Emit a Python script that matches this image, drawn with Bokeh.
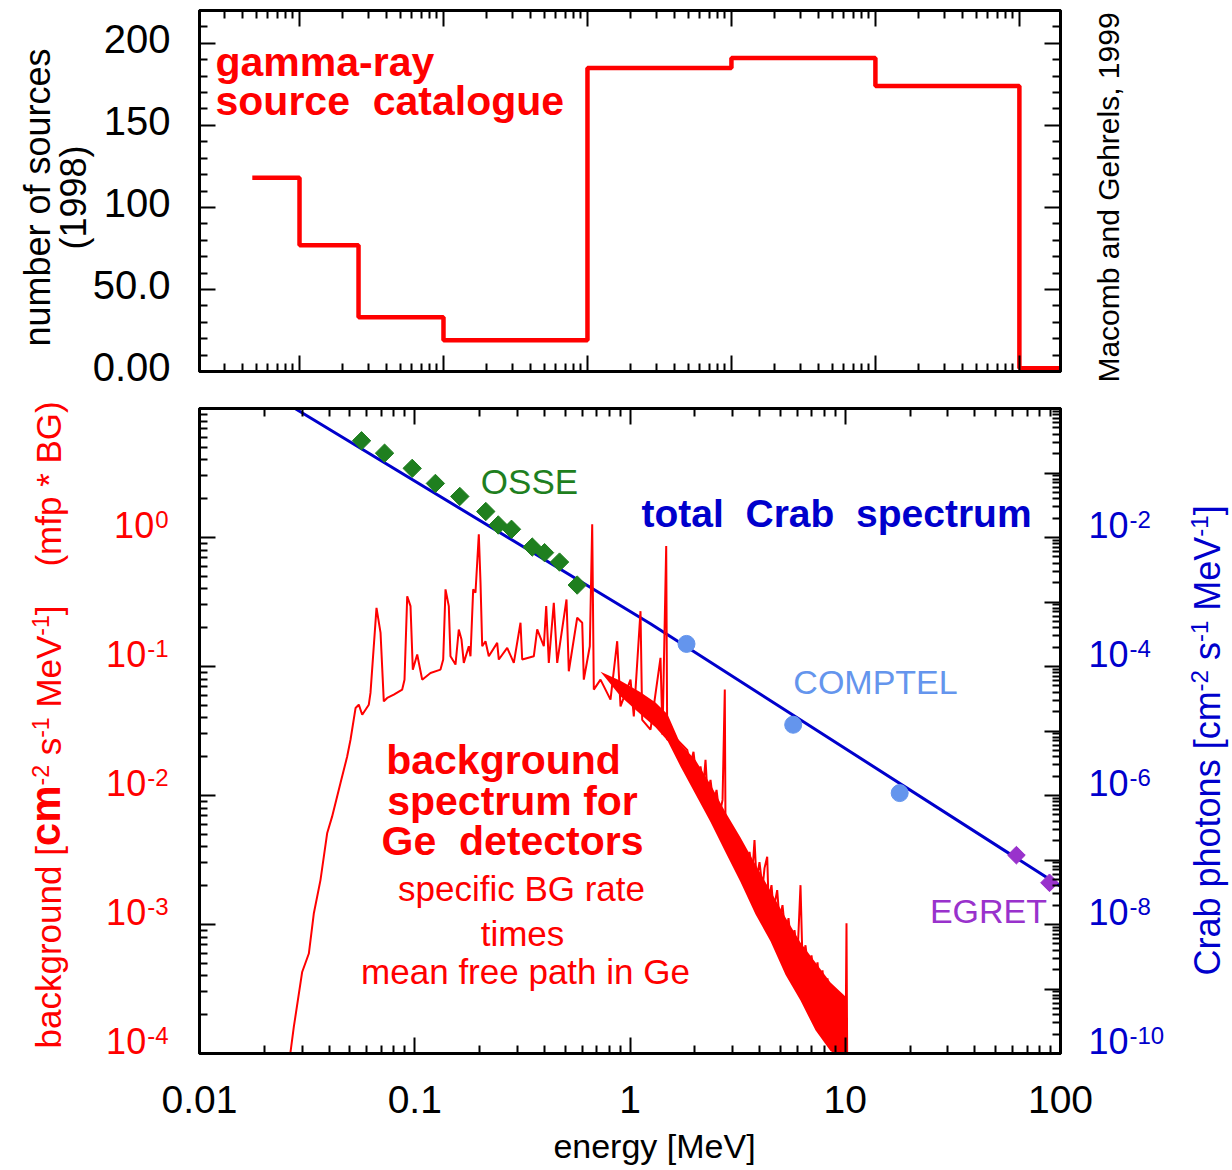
import numpy as np
from bokeh.plotting import figure
from bokeh.models import Range1d, LogScale, LogAxis, LinearAxis, FixedTicker, Label
from bokeh.layouts import column, row
from bokeh.embed import file_html
from bokeh.resources import INLINE

# ---------------- data ----------------
# top panel: number of gamma-ray sources (1998) per band (edges in the top panel's own log units)
band_edges = [0.047, 0.1, 0.257, 1.0, 10.0, 100.0, 1000.0, 10000.0, 19300.0]
source_counts = [118, 77, 33, 19, 185, 191, 174, 2]
count_ticks = [0, 50, 100, 150, 200]
count_tick_labels = ["0.00", "50.0", "100", "150", "200"]

energy_ticks = [0.01, 0.1, 1, 10, 100]
energy_tick_labels = ["0.01", "0.1", "1", "10", "100"]

bg_exponents = [0, -1, -2, -3, -4]
crab_exponents = [-2, -4, -6, -8, -10]

# total Crab spectrum (right axis)
crab_fit_energy = [0.0279, 1.245, 100.0]
crab_fit_flux = [0.989, 4.59e-4, 3.91e-8]

osse_energy = [0.0566, 0.0724, 0.0973, 0.1247, 0.1619, 0.2138, 0.2443, 0.2815, 0.3514, 0.4009, 0.4706, 0.5685]
osse_flux = [0.316, 0.203, 0.118, 0.0689, 0.0433, 0.0253, 0.01565, 0.0134, 0.00711, 0.00582, 0.00416, 0.00183]
comptel_energy = [1.83, 5.73, 17.9]
comptel_flux = [2.24e-4, 1.25e-5, 1.09e-6]
egret_energy = [62.4, 88.9]
egret_flux = [1.19e-7, 4.43e-8]

# Ge detector background spectrum (left axis): log10(E/MeV), log10(flux)
bg_log_energy = [
    -1.582, -1.562, -1.523, -1.492, -1.469, -1.438, -1.407, -1.384, -1.345, -1.314,
    -1.2985, -1.275, -1.260, -1.244, -1.2135, -1.2056, -1.1777, -1.159, -1.1438, -1.128,
    -1.0973, -1.0583, -1.0476, -1.035, -1.0197, -1.009, -0.9886, -0.9654, -0.9268, -0.8804,
    -0.8678, -0.8571, -0.8418, -0.834, -0.8107, -0.7954, -0.7828, -0.7721, -0.7489, -0.741,
    -0.7285, -0.7178, -0.7024, -0.6945, -0.6866, -0.6713, -0.656, -0.617, -0.6095, -0.5705,
    -0.5398, -0.5087, -0.5008, -0.4469, -0.4311, -0.4004, -0.3893, -0.3772, -0.354, -0.3382,
    -0.295, -0.2843, -0.2453, -0.222, -0.2146, -0.1867, -0.1756, -0.1682, -0.137, -0.0906,
    -0.0595, -0.0441, 0.0024, 0.0177, 0.0488, 0.0567, 0.0953, 0.1417, 0.151, 0.1682,
    0.1729, 0.2193, 0.2657, 0.281, 0.295, 0.309, 0.3275, 0.3415, 0.3508, 0.360,
    0.374, 0.388, 0.402, 0.416, 0.430, 0.4404, 0.4437, 0.458, 0.4715, 0.4855,
    0.4994, 0.5134, 0.5273, 0.5412, 0.5552, 0.569, 0.5784, 0.5877, 0.6016, 0.6156,
    0.6249, 0.6374, 0.6434, 0.6574, 0.6667, 0.6838, 0.6945, 0.7085, 0.7224, 0.7364,
    0.7503, 0.7642, 0.7782, 0.7921, 0.8014, 0.8153, 0.8293, 0.8432, 0.8571, 0.8711,
    0.885, 0.8943, 0.9083, 0.9175, 0.9268, 0.9361, 0.9454, 0.9547, 0.964, 0.9733,
    0.9826, 0.9919, 1.0012, 1.0058, 1.009]
bg_log_flux = [
    -4.05, -3.796, -3.368, -3.225, -2.915, -2.656, -2.293, -2.164, -1.904, -1.698,
    -1.568, -1.322, -1.296, -1.374, -1.296, -1.205, -0.545, -0.737, -1.270, -1.244,
    -1.218, -1.179, -1.102, -0.455, -0.532, -1.024, -0.907, -1.102, -1.050, -1.024,
    -0.946, -0.402, -0.532, -0.921, -0.985, -0.713, -0.791, -0.972, -0.843, -0.921,
    -0.402, -0.428, 0.025, -0.350, -0.843, -0.804, -0.921, -0.817, -0.946, -0.855,
    -0.972, -0.661, -0.946, -0.921, -0.713, -0.843, -0.532, -0.972, -0.506, -0.972,
    -0.480, -1.037, -0.622, -0.661, -1.102, -0.843, 0.1026, -1.179, -1.102, -1.257,
    -0.804, -1.309, -1.102, -1.387, -0.571, -1.413, -1.490, -0.933, -1.529, -0.066,
    -1.568, -1.568, -1.646, -1.762, -1.661, -1.863, -1.775, -1.918, -1.723, -1.995,
    -1.879, -2.073, -1.956, -2.151, -2.034, -1.179, -2.267, -2.407, -2.306, -2.485,
    -2.361, -2.516, -2.407, -2.563, -2.438, -2.594, -2.345, -2.656, -2.516, -2.718,
    -2.563, -2.475, -2.811, -2.695, -2.889, -2.733, -2.967, -2.850, -3.083, -2.951,
    -3.184, -3.044, -3.239, -2.695, -3.293, -3.161, -3.371, -3.239, -3.448, -3.293,
    -3.588, -3.355, -3.705, -3.417, -3.821, -3.472, -3.899, -3.526, -3.961, -3.588,
    -3.992, -3.666, -4.016, -2.990, -4.05]

# dense noise band of the background spectrum: log10(E), upper and lower envelope (log10 flux)
band_log_energy = [-0.137, -0.0441, 0.0488, 0.1185, 0.1742, 0.2346, 0.3043, 0.374,
                   0.4437, 0.5134, 0.583, 0.6527, 0.7224, 0.7921, 0.8618, 0.9315, 1.0058]
band_log_high = [-1.040, -1.110, -1.200, -1.280, -1.370, -1.600, -1.725, -1.915,
                 -2.130, -2.325, -2.535, -2.740, -2.945, -3.140, -3.295, -3.450, -3.565]
band_log_low = [-1.040, -1.230, -1.370, -1.470, -1.575, -1.775, -1.990, -2.205,
                -2.440, -2.670, -2.920, -3.130, -3.390, -3.590, -3.820, -3.980, -4.054]

# ---------------- styling ----------------
FONT = "Liberation Sans"
RED = "#FF0000"
BLUE = "#0000CC"
GREEN = "#1F7F1F"
LIGHTBLUE = "#6495ED"
PURPLE = "#9932CC"
BASE = 0.35   # baseline correction (fraction of font size)

_REG = {' ': 278, '(': 333, ')': 333, '*': 389, '-': 333, '.': 278, ',': 278, '[': 278, ']': 278,
        'B': 667, 'C': 722, 'E': 667, 'G': 778, 'L': 556, 'M': 833, 'O': 778, 'P': 667, 'R': 722,
        'S': 667, 'T': 611, 'V': 667,
        'a': 556, 'b': 556, 'c': 500, 'd': 556, 'e': 556, 'f': 278, 'g': 556, 'h': 556, 'i': 222,
        'k': 500, 'l': 222, 'm': 833, 'n': 556, 'o': 556, 'p': 556, 'r': 333, 's': 500, 't': 278,
        'u': 556, 'y': 500}
for _d in "0123456789":
    _REG[_d] = 556
_BOLD = {' ': 278, '-': 333, 'C': 722, 'G': 778,
         'a': 556, 'b': 611, 'c': 556, 'd': 611, 'e': 556, 'f': 333, 'g': 611, 'k': 556, 'l': 278,
         'm': 889, 'n': 611, 'o': 611, 'p': 611, 'r': 389, 's': 556, 't': 333, 'u': 611, 'y': 556}


def text_w(s, size, bold=False):
    tab = _BOLD if bold else _REG
    return sum(tab.get(ch, 556) for ch in s) * size / 1000.0


def put(surf, px, py, text, size, color, bold=False, align="left", angle=0.0):
    """surf = (figure, page x of its frame left, page y of its frame bottom); (px, py) = baseline point."""
    fig, x0, ybot = surf
    if angle == 0.0:
        py = py - BASE * size
    else:
        px = px - BASE * size
    fig.add_layout(Label(x=px - x0, y=ybot - py, x_units="screen", y_units="screen", text=text,
                         text_font=FONT, text_font_size=f"{size}px",
                         text_font_style="bold" if bold else "normal", text_color=color,
                         text_align=align, text_baseline="alphabetic", angle=angle))


def add_run(surf, px, py, text, size, color, bold=False, align="left"):
    total = text_w(text, size, bold)
    x = px if align == "left" else px - total / 2.0
    for i, chunk in enumerate(text.split("  ")):
        if i > 0:
            x += text_w("  ", size, bold)
        put(surf, x, py, chunk, size, color, bold=bold)
        x += text_w(chunk, size, bold)


def rotated_chain(surf, base_x, start_y, pieces, color):
    y = start_y
    for text, size, bold, raise_px in pieces:
        stripped = text.lstrip(" ")
        y -= text_w(text[:len(text) - len(stripped)], size, bold)
        put(surf, base_x - raise_px, y, stripped, size, color, bold=bold, angle=np.pi / 2)
        y -= text_w(stripped, size, bold)


def style_axis(ax):
    ax.axis_line_width = 3
    ax.axis_line_color = "black"
    ax.major_tick_line_width = 2
    ax.minor_tick_line_width = 2
    ax.major_tick_in = 16
    ax.major_tick_out = 0
    ax.minor_tick_in = 8
    ax.minor_tick_out = 0
    ax.major_label_text_font_size = "0px"
    ax.major_label_standoff = 0


def blank_labels(ax, ticks):
    ax.major_label_overrides = {t: "" for t in ticks}


def log_minors(lo, hi):
    return [k * 10.0 ** n for n in range(lo, hi) for k in range(2, 10)]


def no_align(f):
    try:
        f.frame_align = False
    except Exception:
        pass


def text_fig(w, h):
    f = figure(width=w, height=h, x_range=Range1d(0, w), y_range=Range1d(0, h),
               min_border_left=0, min_border_right=0, min_border_top=0, min_border_bottom=0,
               x_axis_location=None, y_axis_location=None, toolbar_location=None,
               output_backend="svg")
    f.outline_line_color = None
    f.grid.visible = False
    no_align(f)
    return f


W_L, W_M, W_R = 194, 871, 167
H_TOP, H_BOT, H_X = 388, 680, 102

# ---------------- top panel ----------------
top = figure(width=W_M, height=H_TOP, x_axis_type="log", x_range=Range1d(0.0202, 19300),
             y_range=Range1d(0, 220), min_border_left=5, min_border_right=5,
             min_border_top=10, min_border_bottom=17, output_backend="svg",
             toolbar_location=None)
no_align(top)
top.grid.visible = False
top.outline_line_color = "black"
top.outline_line_width = 3

top_majors = [0.1, 1, 10, 100, 1000, 10000]
x_tick_top = FixedTicker(ticks=top_majors, minor_ticks=log_minors(-2, 5))
y_tick_top = FixedTicker(ticks=count_ticks, minor_ticks=[v for v in range(10, 220, 10) if v % 50])
top.xaxis.ticker = x_tick_top
style_axis(top.xaxis[0])
blank_labels(top.xaxis[0], top_majors)
top.yaxis.ticker = y_tick_top
style_axis(top.yaxis[0])
blank_labels(top.yaxis[0], count_ticks)
ax_above = LogAxis(ticker=x_tick_top)
style_axis(ax_above)
blank_labels(ax_above, top_majors)
top.add_layout(ax_above, "above")
ax_r = LinearAxis(ticker=y_tick_top)
style_axis(ax_r)
blank_labels(ax_r, count_ticks)
top.add_layout(ax_r, "right")

top.step(band_edges, source_counts + [source_counts[-1]], mode="after",
         line_color=RED, line_width=4.5)

# ---------------- bottom panel ----------------
bot = figure(width=W_M, height=H_BOT, x_axis_type="log", y_axis_type="log",
             x_range=Range1d(0.01, 100), y_range=Range1d(1e-4, 10),
             min_border_left=5, min_border_right=5, min_border_top=20, min_border_bottom=15,
             output_backend="svg", toolbar_location=None)
no_align(bot)
bot.grid.visible = False
bot.outline_line_color = "black"
bot.outline_line_width = 3
bot.extra_y_ranges = {"crab": Range1d(1e-10, 1)}
bot.extra_y_scales = {"crab": LogScale()}

x_tick_bot = FixedTicker(ticks=energy_ticks, minor_ticks=log_minors(-2, 2))
bot.xaxis.ticker = x_tick_bot
style_axis(bot.xaxis[0])
blank_labels(bot.xaxis[0], energy_ticks)
left_ticks = [1e-4, 1e-3, 1e-2, 1e-1, 1, 10]
bot.yaxis.ticker = FixedTicker(ticks=left_ticks, minor_ticks=log_minors(-4, 1))
style_axis(bot.yaxis[0])
blank_labels(bot.yaxis[0], left_ticks)
ax_top2 = LogAxis(ticker=x_tick_bot)
style_axis(ax_top2)
blank_labels(ax_top2, energy_ticks)
bot.add_layout(ax_top2, "above")
right_ticks = [10.0 ** n for n in range(-10, 1)]
ax_crab = LogAxis(y_range_name="crab",
                  ticker=FixedTicker(ticks=right_ticks, minor_ticks=log_minors(-10, 0)))
style_axis(ax_crab)
blank_labels(ax_crab, right_ticks)
bot.add_layout(ax_crab, "right")

bot.line(crab_fit_energy, crab_fit_flux, y_range_name="crab", line_color=BLUE, line_width=3)
bot.varea(x=10.0 ** np.array(band_log_energy), y1=10.0 ** np.array(band_log_low),
          y2=10.0 ** np.array(band_log_high), fill_color=RED)
bot.line(10.0 ** np.array(bg_log_energy), 10.0 ** np.array(bg_log_flux),
         line_color=RED, line_width=2)
bot.scatter(osse_energy, osse_flux, y_range_name="crab", marker="square", angle=np.pi / 4,
            size=13, fill_color=GREEN, line_color=GREEN)
bot.scatter(comptel_energy, comptel_flux, y_range_name="crab", marker="circle",
            size=17, fill_color=LIGHTBLUE, line_color=LIGHTBLUE)
bot.scatter(egret_energy, egret_flux, y_range_name="crab", marker="square", angle=np.pi / 4,
            size=12.5, fill_color=PURPLE, line_color=PURPLE)

# ---------------- text figures around the panels ----------------
tl, tr = text_fig(W_L, H_TOP), text_fig(W_R, H_TOP)
bl, br = text_fig(W_L, H_BOT), text_fig(W_R, H_BOT)
bx = text_fig(W_L + W_M + W_R, H_X)

S_TL = (tl, 0, H_TOP)
S_TR = (tr, W_L + W_M, H_TOP)
S_TOP = (top, 199, 371)
S_BL = (bl, 0, H_TOP + H_BOT)
S_BR = (br, W_L + W_M, H_TOP + H_BOT)
S_BOT = (bot, 199, 1053)
S_BX = (bx, 0, H_TOP + H_BOT + H_X)

# top panel labels
for v, lab in zip(count_ticks, count_tick_labels):
    centre = 371 - v * 361 / 220 - 5
    put(S_TL, 170, centre + 0.358 * 40, lab, 40, "black", align="right")
put(S_TL, 50, 197, "number of sources", 36, "black", align="center", angle=np.pi / 2)
put(S_TL, 86, 197, "(1998)", 36, "black", align="center", angle=np.pi / 2)
put(S_TR, 1118, 197, "Macomb and Gehrels, 1999", 30, "black", align="center", angle=np.pi / 2)
add_run(S_TOP, 215, 76, "gamma-ray", 41, RED, bold=True)
add_run(S_TOP, 215, 115, "source  catalogue", 41, RED, bold=True)

# bottom panel tick labels
for e in bg_exponents:
    py = 1053 - (e + 4) * 129
    sup = str(e)
    sw = text_w(sup, 24)
    put(S_BL, 168 - sw - 1, py, "10", 36, RED, align="right")
    put(S_BL, 168 - sw, py - 10, sup, 24, RED)
for e in crab_exponents:
    py = 1053 - (e + 10) * 64.5
    put(S_BR, 1088, py, "10", 36, BLUE)
    put(S_BR, 1088 + text_w("10", 36) + 1, py - 10, str(e), 24, BLUE)
for v, lab in zip(energy_ticks, energy_tick_labels):
    px = 199 + (np.log10(v) + 2) * 215.25
    put(S_BX, px, 1113, lab, 39, "black", align="center")
put(S_BX, 654, 1157, "energy [MeV]", 34, "black", align="center")

# axis titles with superscripts
rotated_chain(S_BL, 60, 1048,
              [("background [", 35, False, 0), ("cm", 42, True, 0), ("-2", 23, False, 12),
               (" s", 35, False, 0), ("-1", 23, False, 12), (" MeV", 35, False, 0),
               ("-1", 23, False, 12), ("]", 35, False, 0), ("    (mfp * BG)", 35, False, 0)],
              RED)
rotated_chain(S_BR, 1220, 975,
              [("Crab photons [cm", 36, False, 0), ("-2", 24, False, 13), (" s", 36, False, 0),
               ("-1", 24, False, 13), (" MeV", 36, False, 0), ("-1", 24, False, 13),
               ("]", 36, False, 0)],
              BLUE)

# in-plot annotations
add_run(S_BOT, 529, 493, "OSSE", 35, GREEN, align="center")
add_run(S_BOT, 836, 527, "total  Crab  spectrum", 39, BLUE, bold=True, align="center")
add_run(S_BOT, 875, 693, "COMPTEL", 34, LIGHTBLUE, align="center")
add_run(S_BOT, 988, 922, "EGRET", 34, PURPLE, align="center")
add_run(S_BOT, 503, 774, "background", 41, RED, bold=True, align="center")
add_run(S_BOT, 512, 815, "spectrum for", 41, RED, bold=True, align="center")
add_run(S_BOT, 512, 855, "Ge  detectors", 41, RED, bold=True, align="center")
add_run(S_BOT, 521, 900, "specific BG rate", 35, RED, align="center")
add_run(S_BOT, 522, 945, "times", 35, RED, align="center")
add_run(S_BOT, 525, 983, "mean free path in Ge", 35, RED, align="center")

layout = column(row(tl, top, tr, spacing=0), row(bl, bot, br, spacing=0), bx, spacing=0)
open("out.html", "w").write(file_html(layout, INLINE))
